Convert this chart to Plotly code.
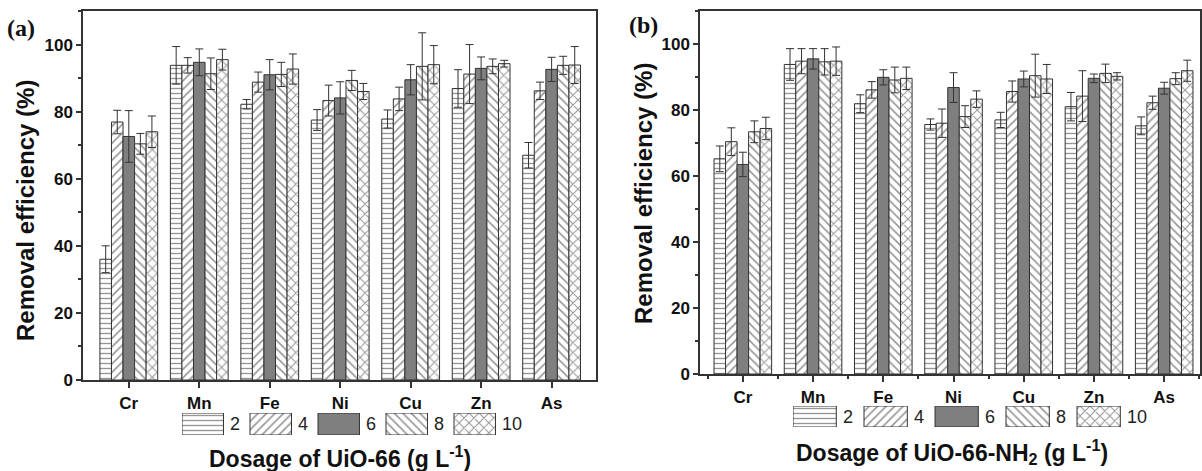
import plotly.graph_objects as go

# ---------------- data ----------------
categories = ["Cr", "Mn", "Fe", "Ni", "Cu", "Zn", "As"]
dosages = ["2", "4", "6", "8", "10"]

# UiO-66 removal efficiency (%) per dosage (g/L)
uio66_d2 = [36.0, 93.8, 82.2, 77.5, 77.8, 86.9, 67.0]
uio66_d4 = [76.9, 93.8, 88.8, 83.3, 83.8, 91.2, 86.2]
uio66_d6 = [72.6, 94.7, 91.0, 84.1, 89.5, 92.9, 92.6]
uio66_d8 = [70.4, 91.3, 91.1, 89.3, 93.5, 93.5, 93.8]
uio66_d10 = [74.0, 95.5, 92.7, 86.0, 94.0, 94.3, 93.9]
uio66_e2 = [4.0, 5.6, 1.4, 3.1, 2.7, 5.6, 3.8]
uio66_e4 = [3.5, 2.3, 3.0, 4.6, 3.5, 8.8, 2.6]
uio66_e6 = [7.7, 4.0, 4.5, 4.8, 4.5, 3.4, 3.6]
uio66_e8 = [3.1, 4.7, 3.6, 3.0, 10.0, 2.2, 2.7]
uio66_e10 = [4.7, 3.1, 4.5, 2.4, 5.7, 1.0, 5.5]

# UiO-66-NH2 removal efficiency (%)
nh2_d2 = [65.2, 93.8, 81.9, 75.6, 77.0, 81.0, 75.2]
nh2_d4 = [70.4, 94.8, 86.1, 76.0, 85.6, 84.2, 82.2]
nh2_d6 = [63.5, 95.5, 89.9, 86.8, 89.4, 89.6, 86.6]
nh2_d8 = [73.4, 94.6, 89.1, 78.0, 90.4, 91.1, 89.5]
nh2_d10 = [74.4, 94.8, 89.6, 83.3, 89.4, 90.2, 91.9]
nh2_e2 = [3.9, 4.8, 2.7, 1.7, 2.3, 4.3, 2.7]
nh2_e4 = [4.2, 3.8, 2.5, 4.3, 3.2, 7.7, 2.0]
nh2_e6 = [3.7, 3.1, 2.3, 4.5, 2.4, 1.3, 1.8]
nh2_e8 = [3.3, 4.0, 3.9, 3.3, 6.5, 2.8, 1.8]
nh2_e10 = [3.4, 4.3, 3.4, 2.5, 4.4, 1.1, 3.2]

y_ticks = [0, 20, 40, 60, 80, 100]

uio66_vals = [uio66_d2, uio66_d4, uio66_d6, uio66_d8, uio66_d10]
uio66_errs = [uio66_e2, uio66_e4, uio66_e6, uio66_e8, uio66_e10]
nh2_vals = [nh2_d2, nh2_d4, nh2_d6, nh2_d8, nh2_d10]
nh2_errs = [nh2_e2, nh2_e4, nh2_e6, nh2_e8, nh2_e10]

# ---------------- style ----------------
W, H = 1202, 471
FONT = "Liberation Sans"
AX = "#333333"
PAT_FG = "#2e2e2e"
SOLID = "#7f7f7f"
patterns = ["-", "/", None, "\\", "x"]
pat_sizes = [5, 6, 0, 6, 7]


def marker_for(i):
    if patterns[i] is None:
        return dict(color=SOLID, line=dict(color=AX, width=1))
    return dict(color="white", line=dict(color=AX, width=1),
                pattern=dict(shape=patterns[i], fgcolor=PAT_FG, bgcolor="white",
                             size=pat_sizes[i], solidity=0.27))


def px_x(p):
    return p / W


def px_y(p):
    return 1 - p / H


xidx = list(range(len(categories)))
fig = go.Figure()

for panel, (vals, errs) in enumerate([(uio66_vals, uio66_errs), (nh2_vals, nh2_errs)]):
    xa = "x" if panel == 0 else "x2"
    ya = "y" if panel == 0 else "y2"
    for i, d in enumerate(dosages):
        fig.add_trace(go.Bar(
            x=xidx, y=vals[i], name=d, xaxis=xa, yaxis=ya,
            marker=marker_for(i),
            error_y=dict(type="data", array=errs[i], visible=True,
                         color=AX, thickness=1, width=4),
            showlegend=False,
        ))

# custom legend swatches on auxiliary axes
sw_w = 0.61
for j, xa, ya in [(0, "x3", "y3"), (1, "x4", "y4")]:
    for i, d in enumerate(dosages):
        fig.add_trace(go.Bar(
            x=[i], y=[1], base=0, width=sw_w, offset=-0.5,
            xaxis=xa, yaxis=ya, marker=marker_for(i), showlegend=False,
            hoverinfo="skip",
        ))
        fig.add_annotation(
            x=i - 0.5 + sw_w, y=0.5, xref=xa, yref=ya, text=d,
            showarrow=False, xanchor="left", yanchor="middle", xshift=5,
            font=dict(family=FONT, size=18, color="#222"),
        )

common_x = dict(
    showgrid=False, zeroline=False, showline=True, linecolor=AX, linewidth=1.5,
    mirror=True, ticks="outside", ticklen=6, tickcolor=AX, tickwidth=1.5,
    tickmode="array", tickvals=xidx, ticktext=categories,
    tickfont=dict(family=FONT, size=17, color="#111", weight="bold"),
    ticklabelstandoff=1, automargin=False,
)
common_y = dict(
    showgrid=False, zeroline=False, showline=True, linecolor=AX, linewidth=1.5,
    mirror=True, ticks="outside", ticklen=5, tickcolor=AX, tickwidth=1.5,
    range=[0, 110], tickmode="array", tickvals=y_ticks,
    tickfont=dict(family=FONT, size=17, color="#111", weight="bold"),
    minor=dict(dtick=10, tick0=0, ticks="outside", ticklen=3, tickcolor=AX, tickwidth=1.5),
    automargin=False,
)

minor_b = [i - 0.5 for i in range(len(categories) + 1)]

fig.update_layout(
    width=W, height=H,
    margin=dict(l=0, r=0, t=0, b=0, autoexpand=False),
    paper_bgcolor="white", plot_bgcolor="white",
    barmode="group", bargap=0.18, bargroupgap=0,
    xaxis=dict(common_x, domain=[px_x(83), px_x(596)], range=[-0.65, 6.63], anchor="y"),
    yaxis=dict(common_y, domain=[px_y(380), px_y(11)], anchor="x"),
    xaxis2=dict(common_x, domain=[px_x(700), px_x(1200)], range=[-0.61, 6.51], anchor="y2",
                minor=dict(tickmode="array", tickvals=minor_b, ticks="outside", ticklen=3,
                           tickcolor=AX, tickwidth=1.5)),
    yaxis2=dict(common_y, domain=[px_y(374), px_y(11)], anchor="x2"),
    xaxis3=dict(domain=[px_x(182), px_x(182 + 68 * 5)], range=[-0.5, 4.5], visible=False,
                anchor="y3", automargin=False),
    yaxis3=dict(domain=[px_y(435), px_y(413)], range=[0, 1], visible=False, anchor="x3",
                automargin=False),
    xaxis4=dict(domain=[px_x(793), px_x(793 + 71 * 5)], range=[-0.5, 4.5], visible=False,
                anchor="y4", automargin=False),
    yaxis4=dict(domain=[px_y(427), px_y(406)], range=[0, 1], visible=False, anchor="x4",
                automargin=False),
    showlegend=False,
)

ytitle_font = dict(family=FONT, size=24, color="#111", weight="bold")
xtitle_font = dict(family=FONT, size=23, color="#111", weight="bold")
fig.add_annotation(x=px_x(25), y=px_y(211), xref="paper", yref="paper",
                   text="Removal efficiency (%)", textangle=-90, showarrow=False,
                   xanchor="center", yanchor="middle", font=ytitle_font)
fig.add_annotation(x=px_x(643), y=px_y(194), xref="paper", yref="paper",
                   text="Removal efficiency (%)", textangle=-90, showarrow=False,
                   xanchor="center", yanchor="middle", font=ytitle_font)
fig.add_annotation(x=px_x(340), y=px_y(457), xref="paper", yref="paper",
                   text="Dosage of UiO-66 (g L<sup>-1</sup>)", showarrow=False,
                   xanchor="center", yanchor="middle", font=xtitle_font)
fig.add_annotation(x=px_x(952), y=px_y(452), xref="paper", yref="paper",
                   text="Dosage of UiO-66-NH<sub>2</sub> (g L<sup>-1</sup>)", showarrow=False,
                   xanchor="center", yanchor="middle", font=xtitle_font)

label_font = dict(family="Liberation Serif", size=24, color="#111", weight="bold")
fig.add_annotation(x=px_x(21), y=px_y(28), xref="paper", yref="paper", text="(a)",
                   showarrow=False, xanchor="center", yanchor="middle", font=label_font)
fig.add_annotation(x=px_x(643), y=px_y(25), xref="paper", yref="paper", text="(b)",
                   showarrow=False, xanchor="center", yanchor="middle", font=label_font)

fig.write_html("out.html")
